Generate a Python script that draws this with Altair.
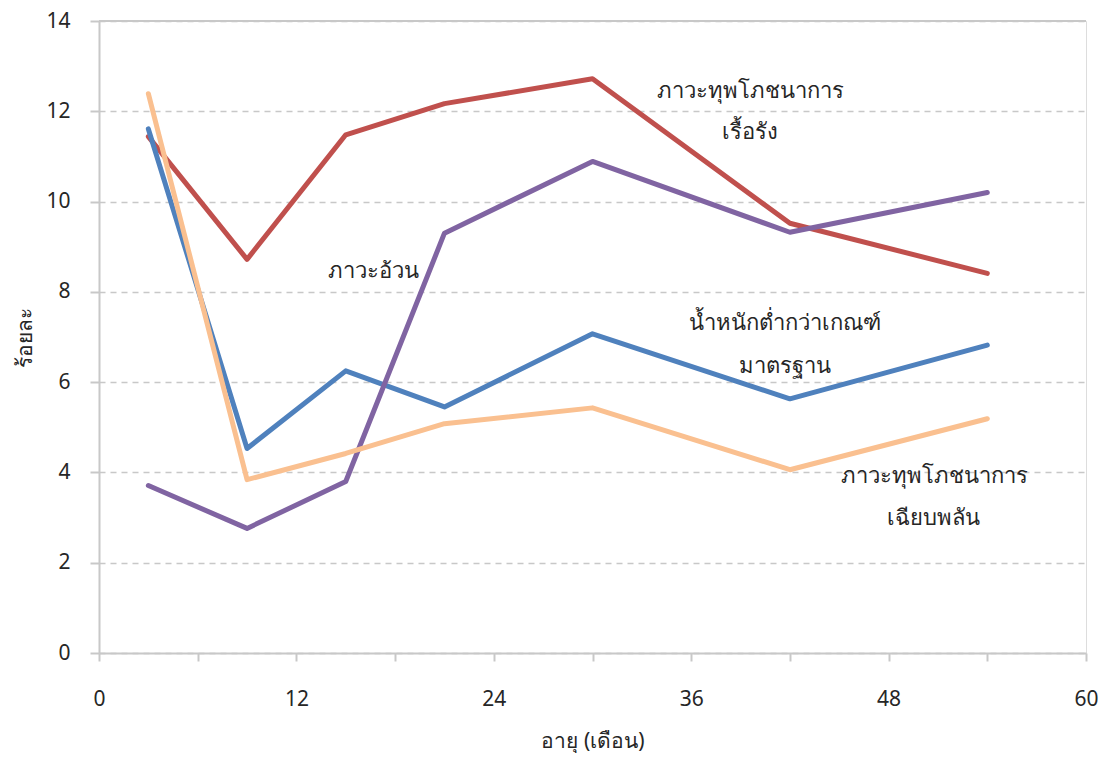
import altair as alt
import pandas as pd

months = [3, 9, 15, 21, 30, 42, 54]
stunting = [11.44, 8.72, 11.48, 12.17, 12.72, 9.52, 8.41]      # chronic (red)
underweight = [11.61, 4.53, 6.25, 5.45, 7.07, 5.63, 6.82]      # blue
overweight = [3.71, 2.76, 3.80, 9.30, 10.89, 9.32, 10.20]      # purple
wasting = [12.39, 3.84, 4.42, 5.08, 5.43, 4.06, 5.19]          # orange

series_names = ["stunting", "underweight", "overweight", "wasting"]
series_values = [stunting, underweight, overweight, wasting]
series_colors = ["#C0504D", "#4F81BD", "#8064A2", "#FAC090"]

rows = []
for name, vals in zip(series_names, series_values):
    for m, v in zip(months, vals):
        rows.append({"month": m, "value": v, "series": name})
df = pd.DataFrame(rows)

label_text = ["ภาวะทุพโภชนาการ", "เรื้อรัง", "ภาวะอ้วน", "น้ำหนักต่ำกว่าเกณฑ์", "มาตรฐาน",
              "ภาวะทุพโภชนาการ", "เฉียบพลัน"]
label_x = [39.6, 39.6, 16.7, 41.7, 41.7, 50.8, 50.7]
label_y = [12.45, 11.55, 8.46, 7.31, 6.36, 3.93, 2.98]
labels = pd.DataFrame({"text": label_text, "x": label_x, "y": label_y})

FONT = "Noto Sans"
x_ticks = [0, 6, 12, 18, 24, 30, 36, 42, 48, 54, 60]
y_ticks = [0, 2, 4, 6, 8, 10, 12, 14]

xscale = alt.Scale(domain=[0, 60], nice=False)
yscale = alt.Scale(domain=[0, 14], nice=False)

lines = alt.Chart(df).mark_line(strokeWidth=5, strokeCap="round", strokeJoin="round").encode(
    x=alt.X("month:Q", scale=xscale,
            axis=alt.Axis(values=x_ticks, title="อายุ (เดือน)", grid=False,
                          labelExpr="datum.value % 12 == 0 ? datum.label : ''",
                          domainColor="#C8C8C8", domainWidth=2, tickColor="#C8C8C8",
                          tickWidth=2, tickSize=8, labelPadding=27, labelFontSize=21,
                          labelColor="#262626", titleFontSize=21, titleColor="#262626",
                          titleFontWeight="normal", titlePadding=21, labelFont=FONT,
                          titleFont=FONT, labelFlush=False)),
    y=alt.Y("value:Q", scale=yscale,
            axis=alt.Axis(values=y_ticks, title="ร้อยละ", grid=True, gridDash=[6, 5],
                          gridColor="#C8C8C8", gridWidth=1.5,
                          domainColor="#C8C8C8", domainWidth=2, tickColor="#C8C8C8",
                          tickWidth=2, tickSize=9, labelPadding=20, labelFontSize=21,
                          labelColor="#262626", titleFontSize=21, titleColor="#262626",
                          titleFontWeight="normal", titlePadding=10, labelFont=FONT,
                          titleFont=FONT, labelFlush=False)),
    color=alt.Color("series:N", scale=alt.Scale(domain=series_names, range=series_colors),
                    legend=None),
    detail="series:N",
)

top = alt.Chart(pd.DataFrame({"y": [14]})).mark_rule(color="#C8C8C8", strokeWidth=2).encode(
    y=alt.Y("y:Q", scale=yscale)
)

text = alt.Chart(labels).mark_text(fontSize=22, font=FONT, color="#262626").encode(
    x=alt.X("x:Q", scale=xscale),
    y=alt.Y("y:Q", scale=yscale),
    text="text:N",
)

chart = alt.layer(top, lines, text).properties(
    width=987, height=632,
    autosize=alt.AutoSizeParams(type="none"),
    padding={"left": 91, "top": 13, "right": 14, "bottom": 100},
).configure_view(stroke=None).configure(font=FONT)

chart.save("out.html", embed_options={"renderer": "svg", "actions": False})
